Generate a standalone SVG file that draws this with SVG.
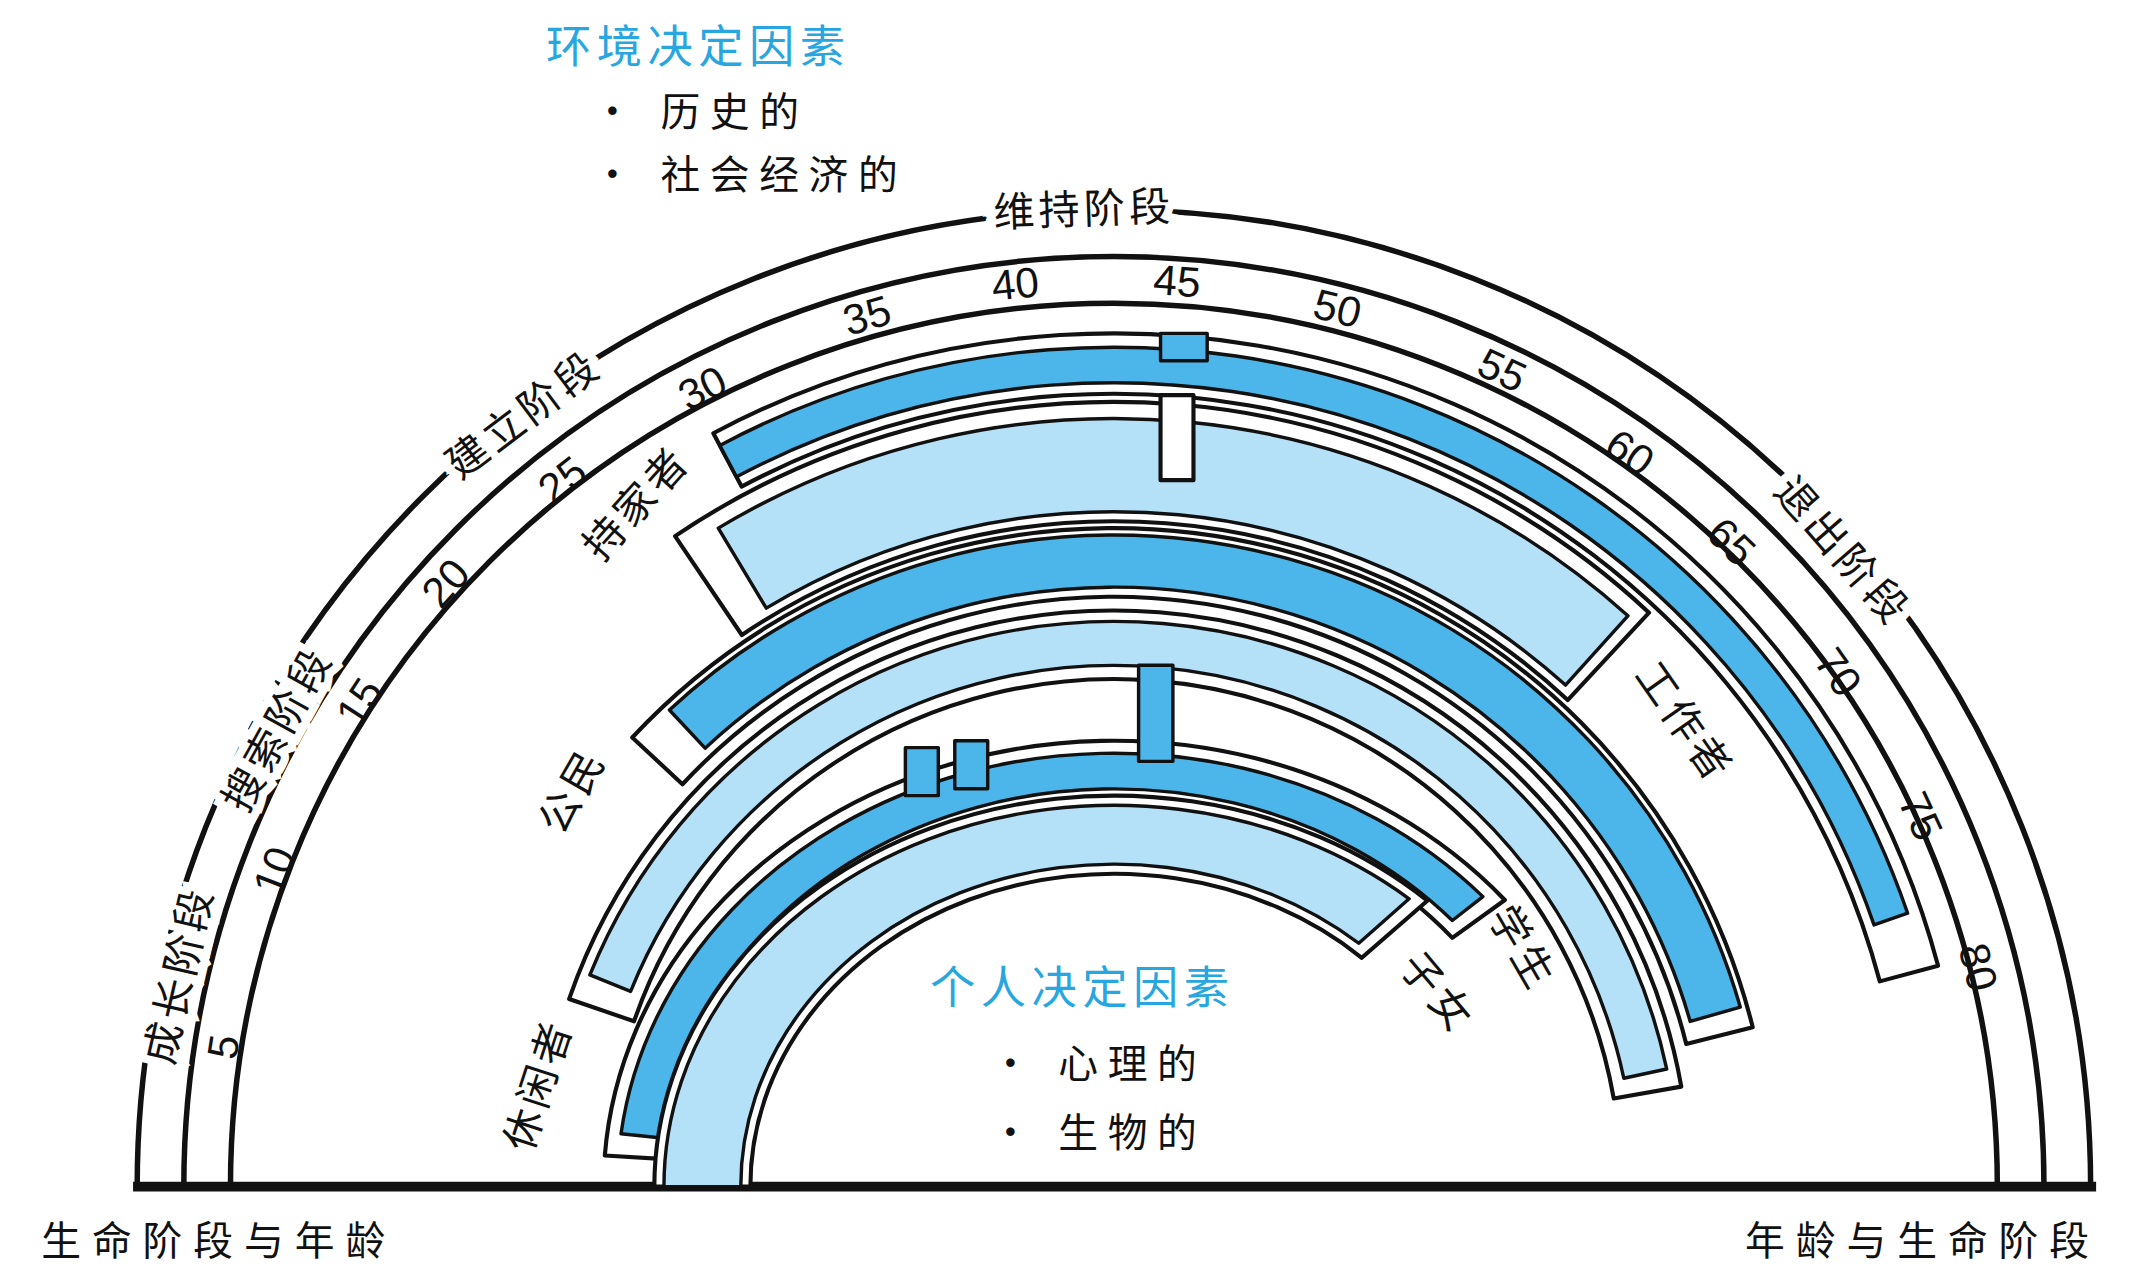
<svg xmlns="http://www.w3.org/2000/svg" width="2140" height="1280" viewBox="0 0 2140 1280">
<style>
.arc{fill:none;stroke:#111;stroke-width:4}
.box{fill:#fff;stroke:#111;stroke-width:3;stroke-linejoin:round}
.dk{fill:#4cb6ea;stroke:#111;stroke-width:2.5;stroke-linejoin:round}
.lt{fill:#b5e1f8;stroke:#111;stroke-width:2.5;stroke-linejoin:round}
text{font-family:"Noto Sans CJK SC","Noto Sans",sans-serif;fill:#111}
.st{font-size:30px;text-anchor:middle;dominant-baseline:central;paint-order:stroke;stroke:#fff;stroke-width:12px;letter-spacing:3px}
.num{font-size:31px;text-anchor:middle;dominant-baseline:central;font-family:"Liberation Sans",sans-serif}
.role{font-size:30px;text-anchor:middle;dominant-baseline:central;letter-spacing:3px}
.hd{font-size:33px;fill:#27a6df;letter-spacing:4px}
.li{font-size:29px;letter-spacing:7px}
</style>
<rect width="2140" height="1280" fill="#fff"/>
<g transform="scale(1.3718)">
<g id="rings">
<path class="arc" d="M100 865 A712 712 0 0 1 1524 865"/>
<path class="arc" d="M134 865 A678 678 0 0 1 1490 865"/>
<path class="arc" d="M168 865 A644 644 0 0 1 1456 865"/>
<line x1="97" y1="865" x2="1528" y2="865" stroke="#111" stroke-width="7"/>
</g>
<g id="worker">
<path class="box" d="M520 315.8 A622 622 0 0 1 1412.8 704 L1370.3 715.4 A578 578 0 0 0 540.6 354.7 Z"/>
<path class="dk" d="M524.7 324.7 A612 612 0 0 1 1390.6 665.7 L1366.1 674.2 A586 586 0 0 0 536.9 347.6 Z"/>
<rect class="dk" x="846" y="243" width="34" height="20"/>
</g>
<g id="homemaker">
<path class="box" d="M492.1 390.8 A572 572 0 0 1 1202.1 446.6 L1142.8 510.3 A485 485 0 0 0 540.8 462.9 Z"/>
<path class="lt" d="M523.6 385 A560 560 0 0 1 1186.7 448.9 L1141.2 499.4 A492 492 0 0 0 558.6 443.3 Z"/>
<rect class="box" x="846" y="288" width="24" height="62"/>
</g>
<g id="citizen">
<path class="box" d="M460.9 537.6 A480 480 0 0 1 1277.7 748.9 L1229.2 761 A430 430 0 0 0 497.5 571.7 Z"/>
<path class="dk" d="M488 517.6 A475 475 0 0 1 1268.6 734.1 L1232.1 744.6 A437 437 0 0 0 514 545.4 Z"/>
</g>
<g id="leisure">
<path class="box" d="M414.9 728.2 A420 420 0 0 1 1225.6 792.1 L1176.4 800.8 A370 370 0 0 0 462.2 744.5 Z"/>
<path class="lt" d="M430 710.7 A412 412 0 0 1 1215 779.3 L1183.7 786 A380 380 0 0 0 459.7 722.7 Z"/>
</g>
<g id="student">
<path class="box" d="M440.9 842.3 A372 325 0 0 1 1097 656.1 L1058.7 683.7 A322 282 0 0 0 490.8 845.3 Z"/>
<path class="dk" d="M452.7 826.5 A362 316 0 0 1 1081 653.6 L1058.7 671 A332 290 0 0 0 482.5 829.6 Z"/>
<rect class="dk" x="830" y="485" width="25" height="70"/>
<rect class="dk" x="660" y="545" width="24" height="35"/>
<rect class="dk" x="696" y="540" width="24" height="35"/>
</g>
<g id="child">
<path class="box" d="M477 865 A335 285 0 0 1 1040.5 656.6 L992.7 698.2 A265 228 0 0 0 547 865 Z"/>
<path class="lt" d="M484 865 A328 278 0 0 1 1027.2 655.2 L990.5 687.6 A272 235 0 0 0 540 865 Z"/>
</g>
<g id="stages">
<text class="st" transform="translate(128 710) rotate(-77)">成长阶段</text>
<text class="st" transform="translate(200 530) rotate(-61)">搜索阶段</text>
<text class="st" transform="translate(380 300) rotate(-37)">建立阶段</text>
<text class="st" transform="translate(790 150) rotate(-2)">维持阶段</text>
<text class="st" transform="translate(1345 400) rotate(49)">退出阶段</text>
</g>
<g id="ages">
<text class="num" transform="translate(163 763) rotate(-81)">5</text>
<text class="num" transform="translate(200 635) rotate(-69)">10</text>
<text class="num" transform="translate(262 512) rotate(-57)">15</text>
<text class="num" transform="translate(325 425) rotate(-48)">20</text>
<text class="num" transform="translate(410 350) rotate(-38)">25</text>
<text class="num" transform="translate(512 283) rotate(-27)">30</text>
<text class="num" transform="translate(632 230) rotate(-16)">35</text>
<text class="num" transform="translate(740 207) rotate(-6)">40</text>
<text class="num" transform="translate(858 205) rotate(4)">45</text>
<text class="num" transform="translate(975 225) rotate(14)">50</text>
<text class="num" transform="translate(1095 270) rotate(25)">55</text>
<text class="num" transform="translate(1188 330) rotate(35)">60</text>
<text class="num" transform="translate(1262 395) rotate(44)">65</text>
<text class="num" transform="translate(1340 490) rotate(55)">70</text>
<text class="num" transform="translate(1400 595) rotate(65)">75</text>
<text class="num" transform="translate(1442 705) rotate(76)">80</text>
</g>
<g id="roles">
<text class="role" transform="translate(462 365) rotate(-48)">持家者</text>
<text class="role" transform="translate(415 575) rotate(-60)">公民</text>
<text class="role" transform="translate(390 790) rotate(-72)">休闲者</text>
<text class="role" transform="translate(1230 525) rotate(55)">工作者</text>
<text class="role" transform="translate(1112 690) rotate(60)">学生</text>
<text class="role" transform="translate(1050 722) rotate(50)">子女</text>
</g>
<g id="notes">
<text class="hd" x="398" y="46">环境决定因素</text>
<text class="li" x="432" y="92">· 历史的</text>
<text class="li" x="432" y="138">· 社会经济的</text>
<text class="hd" x="678" y="732">个人决定因素</text>
<text class="li" x="722" y="786">· 心理的</text>
<text class="li" x="722" y="836">· 生物的</text>
<text class="li" x="30" y="915" style="letter-spacing:8px">生命阶段与年龄</text>
<text class="li" x="1272" y="915" style="letter-spacing:8px">年龄与生命阶段</text>
</g>
</g>
</svg>
